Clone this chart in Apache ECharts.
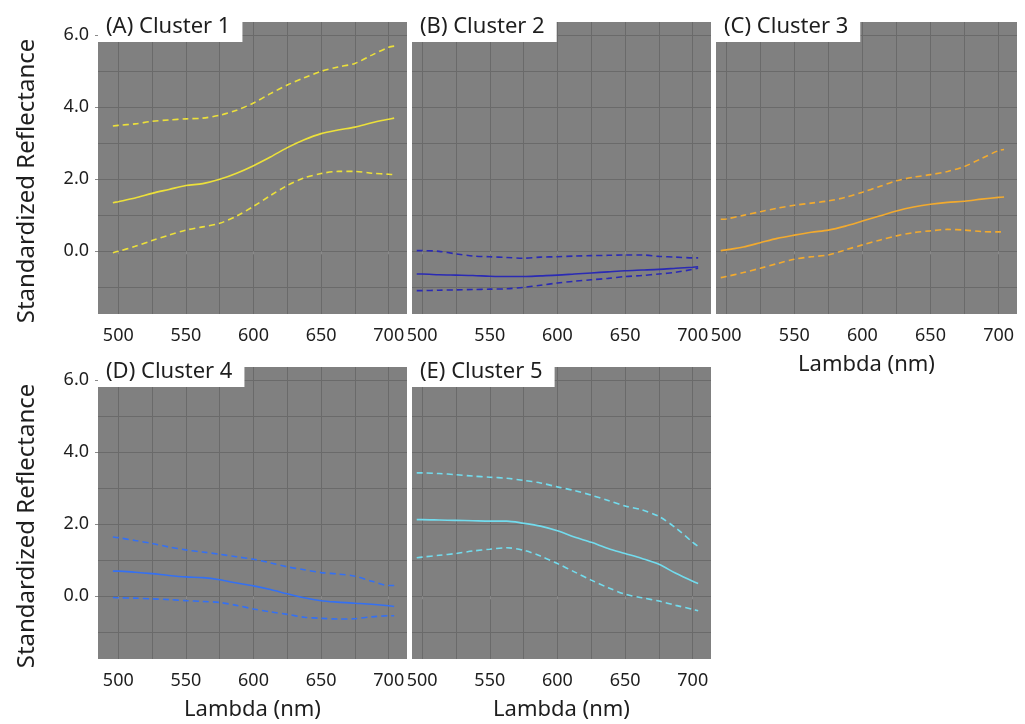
<!DOCTYPE html>
<html><head><meta charset="utf-8">
<script src="https://cdn.jsdelivr.net/npm/echarts@6/dist/echarts.min.js"></script>
<style>html,body{margin:0;padding:0;background:#fff}#c{width:1025px;height:724px}</style>
</head><body><div id="c"></div>
<script>
// ---- data ----
const lambda = [496, 500, 512.5, 525, 537.5, 550, 562.5, 575, 587.5, 600, 612.5, 625, 637.5, 650, 662.5, 675, 687.5, 700, 704];

const c1Mean  = [1.35, 1.38, 1.48, 1.61, 1.72, 1.83, 1.88, 2.00, 2.17, 2.38, 2.62, 2.88, 3.10, 3.27, 3.37, 3.45, 3.57, 3.67, 3.70];
const c1Upper = [3.48, 3.50, 3.54, 3.61, 3.65, 3.68, 3.70, 3.78, 3.92, 4.12, 4.38, 4.62, 4.82, 5.00, 5.12, 5.22, 5.45, 5.67, 5.70];
const c1Lower = [-0.04, 0.00, 0.14, 0.30, 0.45, 0.59, 0.68, 0.78, 0.98, 1.25, 1.55, 1.83, 2.04, 2.16, 2.22, 2.22, 2.17, 2.14, 2.13];

const c2Mean  = [-0.63, -0.63, -0.65, -0.66, -0.67, -0.69, -0.70, -0.70, -0.68, -0.66, -0.63, -0.60, -0.57, -0.54, -0.52, -0.50, -0.47, -0.44, -0.43];
const c2Upper = [0.02, 0.02, 0.00, -0.07, -0.13, -0.15, -0.17, -0.19, -0.16, -0.15, -0.13, -0.12, -0.11, -0.10, -0.10, -0.14, -0.16, -0.18, -0.18];
const c2Lower = [-1.09, -1.09, -1.08, -1.07, -1.06, -1.05, -1.04, -1.00, -0.94, -0.88, -0.83, -0.79, -0.75, -0.70, -0.67, -0.63, -0.58, -0.50, -0.47];

const c3Mean  = [0.02, 0.04, 0.12, 0.24, 0.36, 0.45, 0.53, 0.59, 0.70, 0.84, 0.98, 1.12, 1.23, 1.31, 1.36, 1.39, 1.45, 1.50, 1.51];
const c3Upper = [0.89, 0.90, 1.00, 1.10, 1.20, 1.28, 1.34, 1.40, 1.50, 1.64, 1.80, 1.96, 2.06, 2.13, 2.22, 2.36, 2.58, 2.80, 2.83];
const c3Lower = [-0.73, -0.70, -0.59, -0.47, -0.34, -0.22, -0.15, -0.10, 0.04, 0.18, 0.31, 0.43, 0.52, 0.57, 0.61, 0.59, 0.55, 0.54, 0.54];

const c4Mean  = [0.70, 0.70, 0.67, 0.63, 0.58, 0.54, 0.52, 0.46, 0.37, 0.29, 0.19, 0.07, -0.04, -0.12, -0.16, -0.19, -0.22, -0.26, -0.28];
const c4Upper = [1.65, 1.63, 1.55, 1.47, 1.37, 1.29, 1.23, 1.17, 1.10, 1.03, 0.93, 0.82, 0.74, 0.66, 0.62, 0.56, 0.42, 0.30, 0.30];
const c4Lower = [-0.03, -0.04, -0.05, -0.07, -0.09, -0.12, -0.14, -0.17, -0.25, -0.35, -0.43, -0.50, -0.58, -0.61, -0.63, -0.62, -0.57, -0.54, -0.54];

const c5Mean  = [2.13, 2.13, 2.12, 2.11, 2.10, 2.09, 2.09, 2.03, 1.95, 1.82, 1.65, 1.50, 1.33, 1.19, 1.05, 0.89, 0.64, 0.42, 0.36];
const c5Upper = [3.43, 3.43, 3.41, 3.38, 3.34, 3.31, 3.28, 3.22, 3.15, 3.04, 2.94, 2.81, 2.66, 2.51, 2.40, 2.22, 1.90, 1.50, 1.39];
const c5Lower = [1.07, 1.09, 1.14, 1.19, 1.26, 1.31, 1.35, 1.28, 1.12, 0.91, 0.68, 0.45, 0.24, 0.06, -0.04, -0.13, -0.25, -0.36, -0.40];

const panelTitles = ['(A) Cluster 1', '(B) Cluster 2', '(C) Cluster 3', '(D) Cluster 4', '(E) Cluster 5'];
const xTickLabels = [500, 550, 600, 650, 700];
const yTickLabels = [0, 2, 4, 6];
const xTitle = 'Lambda (nm)';
const yTitle = 'Standardized Reflectance';

// ---- styling / layout ----
const clusters = [
  {mean: c1Mean, upper: c1Upper, lower: c1Lower, color: '#ece03a'},
  {mean: c2Mean, upper: c2Upper, lower: c2Lower, color: '#2a2ab4'},
  {mean: c3Mean, upper: c3Upper, lower: c3Lower, color: '#f2aa2e'},
  {mean: c4Mean, upper: c4Upper, lower: c4Lower, color: '#3470f2'},
  {mean: c5Mean, upper: c5Upper, lower: c5Lower, color: '#72dcee'}
];
const layout = [
  {left: 98,  top: 22,  width: 309, xmin: 485,   yLabels: true,  xName: false},
  {left: 412, top: 22,  width: 299, xmin: 492.5, yLabels: false, xName: false},
  {left: 716, top: 22,  width: 301, xmin: 492.5, yLabels: false, xName: true},
  {left: 98,  top: 367, width: 309, xmin: 485,   yLabels: true,  xName: true},
  {left: 412, top: 367, width: 299, xmin: 492.5, yLabels: false, xName: true}
];
const H = 292, XMAX = 713.5, YMIN = -1.74, YMAX = 6.37;
const FONT = 'Noto Sans';
const BG = '#808080', GRIDC = '#6a6a6a', TXT = '#1e1e1e';

const grid = [], xAxis = [], yAxis = [], series = [], title = [];
layout.forEach((L, i) => {
  grid.push({left: L.left, top: L.top, width: L.width, height: H, show: true,
    backgroundColor: BG, borderWidth: 0, containLabel: false, outerBoundsMode: 'none'});
  // gridline axes
  xAxis.push({type: 'value', gridIndex: i, min: L.xmin, max: XMAX, minInterval: 25, maxInterval: 25,
    axisLine: {show: false}, axisTick: {show: false}, axisLabel: {show: false},
    splitLine: {show: true, showMinLine: false, showMaxLine: false, lineStyle: {color: GRIDC, width: 1}}});
  yAxis.push({type: 'value', gridIndex: i, min: YMIN, max: YMAX, minInterval: 1, maxInterval: 1,
    axisLine: {show: false}, axisTick: {show: false}, axisLabel: {show: false},
    splitLine: {show: true, showMinLine: false, showMaxLine: false, lineStyle: {color: GRIDC, width: 1}}});
  // label axes
  xAxis.push({type: 'value', gridIndex: i, position: 'bottom', min: L.xmin, max: XMAX, minInterval: 50, maxInterval: 50,
    axisLine: {show: false}, splitLine: {show: false},
    axisTick: {show: true, length: 3, lineStyle: {color: '#8a8a8a'}},
    axisLabel: {show: true, margin: 13, fontFamily: FONT, fontSize: 18, color: TXT, showMinLabel: false, showMaxLabel: false,
      formatter: v => xTickLabels.indexOf(v) >= 0 ? String(v) : ''},
    name: L.xName ? xTitle : '', nameLocation: 'middle', nameGap: 40,
    nameTextStyle: {fontFamily: FONT, fontSize: 22, color: TXT}});
  yAxis.push({type: 'value', gridIndex: i, position: 'left', min: YMIN, max: YMAX, minInterval: 2, maxInterval: 2,
    axisLine: {show: false}, splitLine: {show: false},
    axisTick: {show: L.yLabels, length: 3, lineStyle: {color: '#8a8a8a'}},
    axisLabel: {show: L.yLabels, margin: 9, fontFamily: FONT, fontSize: 18, color: TXT, showMinLabel: false, showMaxLabel: false,
      formatter: v => yTickLabels.indexOf(v) >= 0 ? v.toFixed(1) : ''},
    name: L.yLabels ? yTitle : '', nameLocation: 'middle', nameGap: 59, nameRotate: 90,
    nameTextStyle: {fontFamily: FONT, fontSize: 24, color: TXT, padding: [0, 26, 0, 0]}});
  const C = clusters[i];
  const mk = (vals, dashed) => ({
    type: 'line', xAxisIndex: 2 * i, yAxisIndex: 2 * i, showSymbol: false, smooth: 0.3,
    data: lambda.map((x, k) => [x, vals[k]]),
    lineStyle: {color: C.color, width: 1.6, type: dashed ? [6, 4] : 'solid'},
    itemStyle: {color: C.color}, silent: true, animation: false
  });
  series.push(mk(C.upper, true), mk(C.mean, false), mk(C.lower, true));
  title.push({text: panelTitles[i], left: L.left, top: L.top - 12,
    backgroundColor: '#ffffff', padding: [4, 12, 3, 8],
    textStyle: {fontFamily: FONT, fontSize: 22, fontWeight: 'normal', color: TXT, lineHeight: 25}});
});

const chart = echarts.init(document.getElementById('c'), null, {renderer: 'canvas'});
chart.setOption({backgroundColor: '#ffffff', animation: false, title, grid, xAxis, yAxis, series});
</script>
</body></html>
